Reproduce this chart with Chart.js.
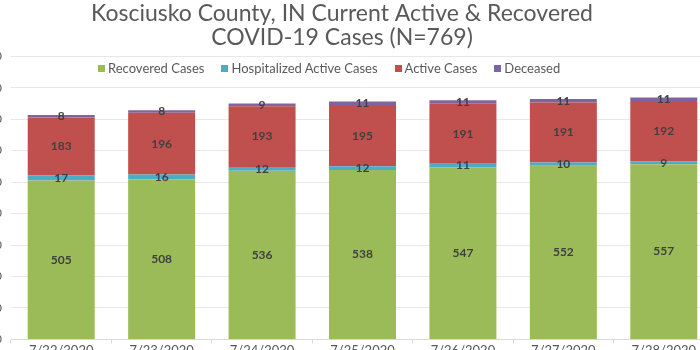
<!DOCTYPE html>
<html>
<head>
<meta charset="utf-8">
<script src="https://cdn.jsdelivr.net/npm/chart.js@4/dist/chart.umd.min.js"></script>
<style>
  html, body { margin: 0; padding: 0; background: #fff; }
  body { width: 700px; height: 350px; overflow: hidden; position: relative; }
  #wrap { position: absolute; left: -30px; top: 0; width: 760px; height: 359px; }
  #legend { position: absolute; left: 98px; top: 60px; display: flex; gap: 17px;
            font-family: Lato, sans-serif; font-size: 13px; color: #595959; }
  #legend span.box { display: inline-block; width: 7px; height: 7px; margin-right: 3px; vertical-align: 1px; }
</style>
</head>
<body>
<div id="wrap"><canvas id="chart"></canvas></div>
<div id="legend"></div>
<script>
// Data
const dates = ['7/22/2020', '7/23/2020', '7/24/2020', '7/25/2020', '7/26/2020', '7/27/2020', '7/28/2020'];
const recovered = [505, 508, 536, 538, 547, 552, 557];
const hospitalized = [17, 16, 12, 12, 11, 10, 9];
const active = [183, 196, 193, 195, 191, 191, 192];
const deceased = [8, 8, 9, 11, 11, 11, 11];
const yTicks = [0, 100, 200, 300, 400, 500, 600, 700, 800, 900];

const seriesNames = ['Recovered Cases', 'Hospitalized Active Cases', 'Active Cases', 'Deceased'];
const seriesColors = ['#9BBB59', '#4BACC6', '#C0504D', '#8064A2'];
const seriesData = [recovered, hospitalized, active, deceased];

// draw the value in the middle of each segment
const segmentLabels = {
    id: 'segmentLabels',
    afterDatasetsDraw(chart) {
        const ctx = chart.ctx;
        ctx.save();
        ctx.font = 'bold 12px Lato, sans-serif';
        ctx.fillStyle = '#404040';
        ctx.textAlign = 'center';
        ctx.textBaseline = 'middle';
        chart.data.datasets.forEach((ds, i) => {
            chart.getDatasetMeta(i).data.forEach((bar, j) => {
                ctx.fillText(ds.data[j], bar.x, (bar.y + bar.base) / 2);
            });
        });
        ctx.restore();
    }
};

const datasets = seriesNames.map((name, i) => ({
    label: name,
    data: seriesData[i],
    backgroundColor: seriesColors[i],
    borderWidth: 0,
    categoryPercentage: 1.0,
    barPercentage: 0.667
}));

new Chart(document.getElementById('chart'), {
    type: 'bar',
    data: { labels: dates, datasets: datasets },
    options: {
        responsive: true,
        maintainAspectRatio: false,
        animation: false,
        layout: { padding: { left: 0, right: 16, top: 0, bottom: 0 } },
        plugins: {
            legend: { display: false },
            tooltip: { enabled: false },
            title: {
                display: true,
                text: ['Kosciusko County, IN Current Active & Recovered', 'COVID-19 Cases (N=769)'],
                color: '#595959',
                font: { family: 'Lato, sans-serif', size: 23, weight: 'normal', lineHeight: 1.07 },
                padding: { top: 1, bottom: 6 }
            }
        },
        scales: {
            x: {
                stacked: true,
                grid: { drawOnChartArea: false, drawTicks: true, tickLength: 4, color: '#d9d9d9' },
                border: { color: '#d9d9d9' },
                ticks: { color: '#595959', font: { family: 'Lato, sans-serif', size: 13 }, padding: 0 }
            },
            y: {
                stacked: true,
                min: 0,
                max: 900,
                afterBuildTicks(scale) { scale.ticks = yTicks.map(v => ({ value: v })); },
                afterFit(scale) { scale.width = 41; },
                grid: { color: '#e8e8e8', drawTicks: false },
                border: { display: false },
                ticks: { color: '#595959', font: { family: 'Lato, sans-serif', size: 12 }, padding: 9 }
            }
        }
    },
    plugins: [segmentLabels]
});

// HTML legend built from the series
const legend = document.getElementById('legend');
seriesNames.forEach((name, i) => {
    const item = document.createElement('div');
    item.innerHTML = '<span class="box" style="background:' + seriesColors[i] + '"></span>' + name;
    legend.appendChild(item);
});
</script>
</body>
</html>
